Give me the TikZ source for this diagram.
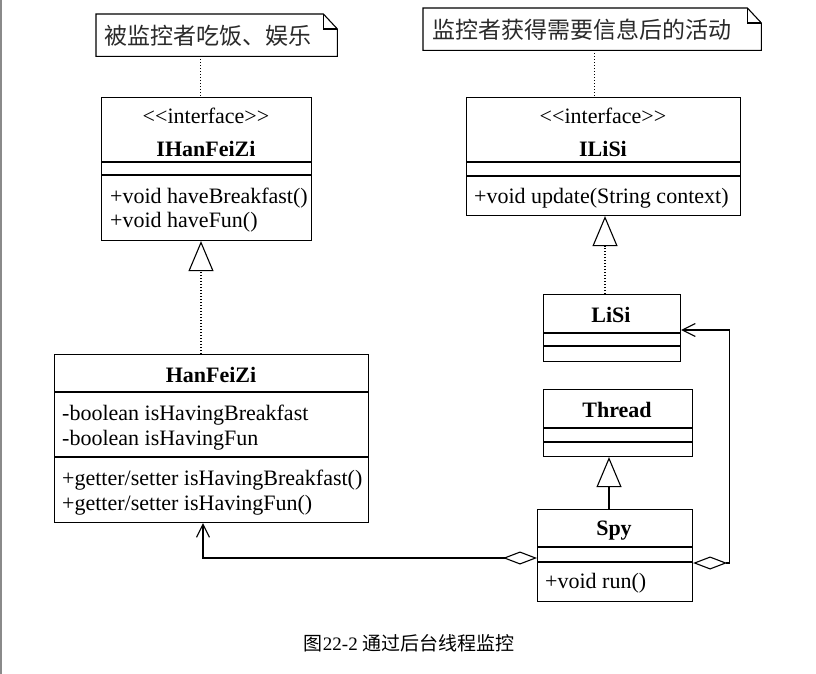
\documentclass[tikz,border=0pt]{standalone}
\usepackage{fontspec}
\setmainfont{Liberation Serif}
\newfontfamily\umlfont{Liberation Serif}
\newfontfamily\cjk{Noto Sans CJK SC}
\usetikzlibrary{arrows.meta}
\definecolor{notetext}{HTML}{2A2A2A}
\definecolor{pageedge}{HTML}{8A8A8A}
\begin{document}
\begin{tikzpicture}[x=1pt,y=-1pt,
  box/.style={draw,line width=1.1pt,anchor=north west,inner sep=0pt},
  notebox/.style={anchor=north west,inner sep=0pt},
  uml/.style={font=\umlfont\fontsize{22}{24}\selectfont,inner sep=0pt},
  umlbold/.style={font=\umlfont\bfseries\fontsize{22}{24}\selectfont,inner sep=0pt},
  notefont/.style={font=\cjk\fontsize{23}{23}\selectfont,text=notetext,inner sep=0pt},
  dline/.style={line width=1pt,dash pattern=on 1pt off 2pt},
  gen/.style={line width=1.1pt,-{Triangle[open,length=30pt,width=25pt,line width=1.1pt]}},
  assoc/.style={line width=1.1pt,{Diamond[open,length=34pt,width=13pt,line width=1.1pt]}-{Straight Barb[length=13pt,width=13pt,line width=1.1pt]}},
  divider/.style={line width=1.1pt}
]
\useasboundingbox (0,0) rectangle (816,674);
\fill[white] (0,0) rectangle (816,674);
\draw[pageedge,line width=2pt] (1,0) -- (1,674);

% notes
\node[notebox,minimum width=241pt,minimum height=42pt] (n1) at (96,14) {};
\draw[line width=1.1pt] (n1.south west) -- (n1.north west) -- ([xshift=-14pt]n1.north east)
  -- ([yshift=-15pt]n1.north east) -- (n1.south east) -- cycle;
\draw[line width=1.1pt] ([xshift=-14pt]n1.north east) -- ([xshift=-14pt,yshift=-15pt]n1.north east) -- ([yshift=-15pt]n1.north east);
\node[notefont,anchor=west] (n1t) at (104,36) {被监控者吃饭、娱乐};

\node[notebox,minimum width=338pt,minimum height=42pt] (n2) at (423,8) {};
\draw[line width=1.1pt] (n2.south west) -- (n2.north west) -- ([xshift=-14pt]n2.north east)
  -- ([yshift=-15pt]n2.north east) -- (n2.south east) -- cycle;
\draw[line width=1.1pt] ([xshift=-14pt]n2.north east) -- ([xshift=-14pt,yshift=-15pt]n2.north east) -- ([yshift=-15pt]n2.north east);
\node[notefont,anchor=west] (n2t) at (432,30) {监控者获得需要信息后的活动};

% IHanFeiZi
\node[box,minimum width=210pt,minimum height=143pt] (ihf) at (101,97) {};
\draw[divider] (ihf.west |- 0,162) -- (ihf.east |- 0,162);
\draw[divider] (ihf.west |- 0,175) -- (ihf.east |- 0,175);
\node[uml,anchor=base] (ihfs) at (206,124) {<\kern0pt<interface>\kern0pt>};
\node[umlbold,anchor=base] (ihfn) at (206,156) {IHanFeiZi};
\node[uml,anchor=base west] (ihfm1) at (110,203) {+void haveBreakfast()};
\node[uml,anchor=base west] (ihfm2) at (110,227) {+void haveFun()};

% ILiSi
\node[box,minimum width=274pt,minimum height=118pt] (ils) at (466,97) {};
\draw[divider] (ils.west |- 0,162) -- (ils.east |- 0,162);
\draw[divider] (ils.west |- 0,176) -- (ils.east |- 0,176);
\node[uml,anchor=base] (ilss) at (603,124) {<\kern0pt<interface>\kern0pt>};
\node[umlbold,anchor=base] (ilsn) at (603,156) {ILiSi};
\node[uml,anchor=base west] (ilsm1) at (474,203) {+void update(String context)};

% LiSi
\node[box,minimum width=137pt,minimum height=67pt] (ls) at (543,294) {};
\draw[divider] (ls.west |- 0,333) -- (ls.east |- 0,333);
\draw[divider] (ls.west |- 0,346) -- (ls.east |- 0,346);
\node[umlbold,anchor=base] (lsn) at (611,322) {LiSi};

% Thread
\node[box,minimum width=149pt,minimum height=67pt] (th) at (543,389) {};
\draw[divider] (th.west |- 0,428) -- (th.east |- 0,428);
\draw[divider] (th.west |- 0,442) -- (th.east |- 0,442);
\node[umlbold,anchor=base] (thn) at (617,417) {Thread};

% Spy
\node[box,minimum width=155pt,minimum height=92pt] (spy) at (537,509) {};
\draw[divider] (spy.west |- 0,547) -- (spy.east |- 0,547);
\draw[divider] (spy.west |- 0,562) -- (spy.east |- 0,562);
\node[umlbold,anchor=base] (spyn) at (614,535) {Spy};
\node[uml,anchor=base west] (spym1) at (545,588) {+void run()};

% HanFeiZi
\node[box,minimum width=314pt,minimum height=168pt] (hf) at (54,354) {};
\draw[divider] (hf.west |- 0,392) -- (hf.east |- 0,392);
\draw[divider] (hf.west |- 0,457) -- (hf.east |- 0,457);
\node[umlbold,anchor=base] (hfn) at (211,382) {HanFeiZi};
\node[uml,anchor=base west] (hfa1) at (62,420) {-boolean isHavingBreakfast};
\node[uml,anchor=base west] (hfa2) at (62,445) {-boolean isHavingFun};
\node[uml,anchor=base west] (hfm1) at (62,485) {+getter/setter isHavingBreakfast()};
\node[uml,anchor=base west] (hfm2) at (62,510) {+getter/setter isHavingFun()};

% note links
\draw[dline] ([xshift=104pt]n1.south west) -- ([xshift=104pt]n1.south west |- ihf.north);
\draw[dline] ([xshift=171pt]n2.south west) -- ([xshift=171pt]n2.south west |- ils.north);

% realizations / generalization
\draw[dline,gen] ([xshift=147pt]hf.north west) -- ([xshift=147pt]hf.north west |- ihf.south);
\draw[dline,gen] ([xshift=62pt]ls.north west) -- ([xshift=62pt]ls.north west |- ils.south);
\draw[gen] ([xshift=72pt]spy.north west) -- ([xshift=72pt]spy.north west |- th.south);

% associations
\draw[assoc] ([yshift=-49pt]spy.north west) -| ([xshift=149pt]hf.south west);
\draw[assoc] ([yshift=-54pt]spy.north east) -- ++(36,0) |- ([yshift=-36pt]ls.north east);

% caption
\node[font=\cjk\fontsize{19}{19}\selectfont,inner sep=0pt] (cap) at (409,643) {图{\umlfont 22-2} 通过后台线程监控};
\end{tikzpicture}
\end{document}
